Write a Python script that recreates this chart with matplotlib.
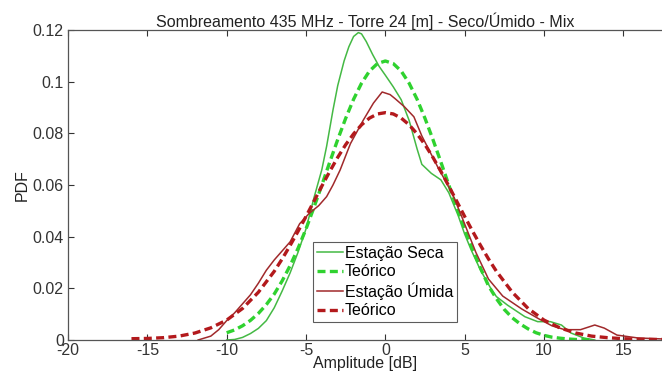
import matplotlib
matplotlib.use("Agg")
import matplotlib.pyplot as plt

plt.rcParams['font.family'] = ['Liberation Sans', 'DejaVu Sans']

# Estação Seca (measured)
seca_x = [-10, -9.5, -9, -8.5, -8, -7.5, -7, -6.5, -6, -5.5, -5, -4.75, -4.5, -4,
          -3.7, -3.3, -3, -2.6, -2.3, -2, -1.7, -1.5, -1.2, -0.8, -0.4, 0, 0.5,
          1, 1.5, 2, 2.3, 2.9, 3.5, 4, 4.6, 5, 5.4, 6, 6.7, 7, 7.7, 8.8, 9.6,
          10.4, 11.1, 11.7, 12.5, 13.2]
seca_y = [0.0, 0.0002, 0.001, 0.0025, 0.0045, 0.0075, 0.0125, 0.019, 0.026, 0.034,
          0.043, 0.049, 0.055, 0.066, 0.075, 0.089, 0.0985, 0.108, 0.1135,
          0.1175, 0.119, 0.1185, 0.1155, 0.1105, 0.106, 0.1025, 0.098, 0.093,
          0.085, 0.074, 0.068, 0.0645, 0.062, 0.057, 0.048, 0.041, 0.035, 0.027,
          0.0194, 0.0168, 0.0135, 0.009, 0.0071, 0.0071, 0.0058, 0.0027, 0.0008,
          0.0]

# Teórico (seca)
teo_seca_x = [-10, -9.5, -9, -8.5, -8, -7.5, -7, -6.5, -6, -5.5, -5, -4.5, -4, -3.5,
              -3, -2.5, -2, -1.5, -1, -0.5, 0, 0.5, 1, 1.5, 2, 2.5, 3, 3.5, 4,
              4.5, 5, 5.5, 6, 6.5, 7, 7.5, 8, 8.5, 9, 9.5, 10, 10.5, 11, 11.5,
              12, 13]
teo_seca_y = [0.0028, 0.0039, 0.0055, 0.0076, 0.0103, 0.0137, 0.0178, 0.0229,
              0.0288, 0.0355, 0.043, 0.0513, 0.060, 0.0689, 0.0776, 0.0858,
              0.0932, 0.0994, 0.1041, 0.1070, 0.108, 0.1070, 0.1041, 0.0994,
              0.0932, 0.0858, 0.0776, 0.0689, 0.060, 0.0513, 0.043, 0.035,
              0.0278, 0.021, 0.016, 0.0118, 0.0086, 0.0062, 0.0043, 0.0028,
              0.0018, 0.0011, 0.0007, 0.0004, 0.0002, 0.0]

# Estação Úmida (measured)
umida_x = [-11.8, -11, -10.5, -10, -9.5, -9, -8.5, -8, -7.5, -7, -6.5, -6, -5.4,
           -4.8, -4.2, -3.7, -3.3, -2.85, -2.2, -1.4, -0.75, -0.2, 0.3, 0.6, 1.2,
           1.8, 2.3, 3.3, 4.2, 4.8, 5.7, 6.5, 7.4, 8.6, 9.7, 10.5, 11.3, 12.3,
           13.2, 13.8, 14.6, 15.9, 17.5]
umida_y = [0.0, 0.0015, 0.004, 0.0075, 0.0105, 0.014, 0.0175, 0.022, 0.027, 0.031,
           0.0345, 0.038, 0.045, 0.049, 0.052, 0.0555, 0.060, 0.0658, 0.076,
           0.085, 0.0917, 0.096, 0.095, 0.0935, 0.0903, 0.0864, 0.079, 0.067,
           0.057, 0.048, 0.034, 0.0236, 0.017, 0.012, 0.0081, 0.0055, 0.004,
           0.004, 0.0058, 0.0046, 0.0019, 0.0008, 0.0004]

# Teórico (úmida)
teo_umida_x = [-16, -15, -14, -13, -12, -11, -10, -9, -8, -7, -6.5, -6, -5.5, -5,
               -4.5, -4, -3.5, -3, -2.5, -2, -1.5, -1, -0.5, 0, 0.5, 1, 1.5, 2,
               2.5, 3, 3.5, 4, 4.5, 5, 5.5, 6, 6.5, 7, 8, 9, 10, 11, 12, 13, 14,
               15, 16, 17, 17.5]
teo_umida_y = [0.0005, 0.0006, 0.0009, 0.0015, 0.0027, 0.0047, 0.0077, 0.0122,
               0.0185, 0.0266, 0.0314, 0.0366, 0.0421, 0.0478, 0.0537, 0.0596,
               0.0653, 0.0707, 0.0756, 0.0798, 0.0833, 0.0859, 0.0875, 0.088,
               0.0875, 0.0859, 0.0833, 0.0798, 0.0756, 0.0707, 0.0653, 0.0596,
               0.0537, 0.0478, 0.0421, 0.0366, 0.0314, 0.0266, 0.0185, 0.0122,
               0.0077, 0.0047, 0.0027, 0.0015, 0.0009, 0.0005, 0.0003, 0.0002,
               0.0002]

xticks = [-20, -15, -10, -5, 0, 5, 10, 15]
yticks = [0, 0.02, 0.04, 0.06, 0.08, 0.1, 0.12]
ytick_labels = ['0', '0.02', '0.04', '0.06', '0.08', '0.1', '0.12']

green_solid = '#44b944'
green_dash = '#2fd22f'
red_solid = '#a0292b'
red_dash = '#b3191c'
fs = 11.5

fig = plt.figure(figsize=(6.62, 3.72), dpi=100)
ax = fig.add_axes([68 / 662, 32 / 372, 595 / 662, 310 / 372])

ax.plot(seca_x, seca_y, color=green_solid, lw=1.1, label='Estação Seca')
ax.plot(teo_seca_x, teo_seca_y, color=green_dash, lw=2.4,
        linestyle=(0, (2.4, 1.3)), label='Teórico')
ax.plot(umida_x, umida_y, color=red_solid, lw=1.1, label='Estação Úmida')
ax.plot(teo_umida_x, teo_umida_y, color=red_dash, lw=2.4,
        linestyle=(0, (2.4, 1.3)), label='Teórico')

ax.set_xlim(-20, 17.5)
ax.set_ylim(0, 0.12)
ax.set_xticks(xticks)
ax.set_xticklabels([str(t) for t in xticks])
ax.set_yticks(yticks)
ax.set_yticklabels(ytick_labels)
ax.tick_params(direction='in', length=4, width=0.8, colors='#333333',
               labelsize=fs, top=True, right=False, pad=3)
ax.tick_params(axis='x', pad=2)
for side in ['left', 'bottom', 'top']:
    ax.spines[side].set_color('#555555')
    ax.spines[side].set_linewidth(0.9)
ax.spines['right'].set_visible(False)

ax.set_title('Sombreamento 435 MHz - Torre 24 [m] - Seco/Úmido - Mix',
             fontsize=fs, pad=2, color='#222222')
ax.set_xlabel('Amplitude [dB]', fontsize=fs, labelpad=-1.5, color='#222222')
ax.set_ylabel('PDF', fontsize=fs, labelpad=2, color='#222222')

leg = ax.legend(loc='upper left', bbox_to_anchor=(0.412, 0.316), fontsize=fs,
                frameon=True, fancybox=False, handlelength=1.6,
                handletextpad=0.15, borderpad=0.25, labelspacing=0.2,
                borderaxespad=0)
leg.get_frame().set_edgecolor('#333333')
leg.get_frame().set_linewidth(0.8)

fig.savefig('out.png', dpi=100)
